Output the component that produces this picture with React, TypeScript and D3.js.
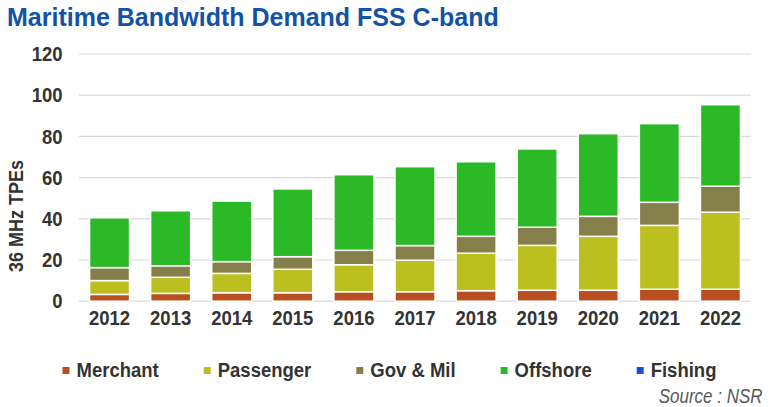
import { useEffect, useRef } from "react";
import * as d3 from "d3";

const years = ["2012", "2013", "2014", "2015", "2016", "2017", "2018", "2019", "2020", "2021", "2022"];
const merchant = [3.3, 3.8, 4.1, 4.1, 4.6, 4.6, 5.1, 5.3, 5.3, 5.8, 5.8];
const passenger = [6.7, 7.8, 9.4, 11.4, 13.1, 15.3, 18.2, 21.8, 26.2, 31.0, 37.4];
const govMil = [6.3, 5.6, 5.7, 6.1, 7.0, 7.1, 8.2, 8.8, 9.7, 11.2, 12.6];
const offshore = [24.2, 26.7, 29.4, 32.9, 36.7, 38.3, 36.2, 38.0, 40.1, 38.2, 39.6];
const fishing = [0, 0, 0, 0, 0, 0, 0, 0, 0, 0, 0];

const seriesNames = ["Merchant", "Passenger", "Gov & Mil", "Offshore", "Fishing"];
const seriesColors = ["#B94E21", "#BBC020", "#85804B", "#2BB928", "#1B4FD9"];
const yTicks = [0, 20, 40, 60, 80, 100, 120];

const title = "Maritime Bandwidth Demand FSS C-band";
const yLabel = "36 MHz TPEs";
const source = "Source : NSR";

const W = 771;
const H = 407;
const FONT = "'Liberation Sans', Arial, sans-serif";
const STRETCH = 1.08; // the original's labels are a bit taller than wide

type Row = { year: string } & Record<string, number | string>;

export default function App() {
  const ref = useRef<SVGSVGElement | null>(null);

  useEffect(() => {
    document.body.style.margin = "0";
    if (!ref.current) return;
    const svg = d3.select(ref.current);
    svg.selectAll("*").remove();

    const allSeries = [merchant, passenger, govMil, offshore, fishing];
    const rows: Row[] = years.map((year, i) => {
      const r: Row = { year } as Row;
      seriesNames.forEach((name, k) => (r[name] = allSeries[k][i]));
      return r;
    });

    const x = d3.scaleBand<string>().domain(years).range([79, 751]).paddingInner(0.345).paddingOuter(0.1725);
    const y = d3.scaleLinear().domain([0, 120]).range([301.2, 54]);

    // title
    svg
      .append("text")
      .attr("x", 7)
      .attr("y", 26)
      .attr("font-family", FONT)
      .attr("font-weight", "bold")
      .attr("font-size", 25)
      .attr("fill", "#1452A6")
      .text(title);

    // grid
    svg
      .append("g")
      .selectAll("line")
      .data(yTicks)
      .join("line")
      .attr("x1", 79)
      .attr("x2", 751)
      .attr("y1", (d) => y(d))
      .attr("y2", (d) => y(d))
      .attr("stroke", "#D9D9D9")
      .attr("stroke-width", 1.2);

    // y tick labels
    svg
      .append("g")
      .selectAll("text")
      .data(yTicks)
      .join("text")
      .attr("transform", (d) => `translate(62.5,${y(d)}) scale(1,${STRETCH})`)
      .attr("dy", "0.36em")
      .attr("text-anchor", "end")
      .attr("font-family", FONT)
      .attr("font-weight", "bold")
      .attr("font-size", 18.5)
      .attr("fill", "#333333")
      .text((d) => String(d));

    // y label
    svg
      .append("text")
      .attr("transform", `translate(23,216) rotate(-90) scale(1,${STRETCH})`)
      .attr("text-anchor", "middle")
      .attr("font-family", FONT)
      .attr("font-weight", "bold")
      .attr("font-size", 18)
      .attr("fill", "#333333")
      .text(yLabel);

    // stacked bars
    const stack = d3.stack<Row>().keys(seriesNames).value((d, key) => d[key] as number);
    const layers = stack(rows);

    svg
      .append("g")
      .selectAll("g")
      .data(layers)
      .join("g")
      .attr("fill", (_, i) => seriesColors[i])
      .selectAll("rect")
      .data((d) => d)
      .join("rect")
      .attr("x", (d) => x(d.data.year)!)
      .attr("width", x.bandwidth())
      .attr("y", (d) => y(d[1]))
      .attr("height", (d) => Math.max(0, y(d[0]) - y(d[1])))
      .attr("stroke", (d) => (d[1] - d[0] > 0 ? "#FFFFFF" : "none"))
      .attr("stroke-width", 1.5);

    // x tick labels
    svg
      .append("g")
      .selectAll("text")
      .data(years)
      .join("text")
      .attr("transform", (d) => `translate(${x(d)! + x.bandwidth() / 2},325) scale(1,${STRETCH})`)
      .attr("text-anchor", "middle")
      .attr("font-family", FONT)
      .attr("font-weight", "bold")
      .attr("font-size", 18.5)
      .attr("fill", "#333333")
      .text((d) => d);

    // legend
    const legend = svg.append("g");
    let lx = 62.5;
    seriesNames.forEach((name, i) => {
      legend
        .append("rect")
        .attr("x", lx)
        .attr("y", 367)
        .attr("width", 7)
        .attr("height", 7)
        .attr("fill", seriesColors[i]);
      const t = legend
        .append("text")
        .attr("transform", `translate(${lx + 14},370.3) scale(1,${STRETCH})`)
        .attr("dy", "0.36em")
        .attr("font-family", FONT)
        .attr("font-weight", "bold")
        .attr("font-size", 18.5)
        .attr("fill", "#333333")
        .text(name);
      const w = (t.node() as SVGTextElement).getComputedTextLength();
      lx = lx + 14 + w + 45;
    });

    // source
    svg
      .append("text")
      .attr("transform", `translate(762.5,403.3) scale(1,1.18)`)
      .attr("text-anchor", "end")
      .attr("font-family", FONT)
      .attr("font-style", "italic")
      .attr("font-size", 17)
      .attr("fill", "#595959")
      .text(source);
  }, []);

  return <svg ref={ref} width={W} height={H} style={{ display: "block", background: "#FFFFFF" }} />;
}
